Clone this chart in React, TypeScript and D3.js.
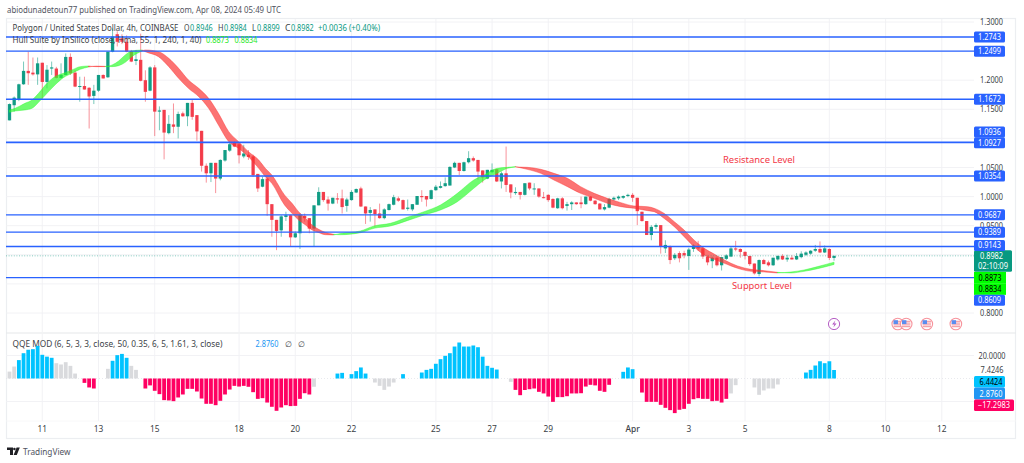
import React from "react";
import * as d3 from "d3";

const opens = [
  1.131,1.157,1.166,1.193,1.216,1.213,1.210,1.230,1.197,1.220,
  1.220,1.204,1.209,1.240,1.213,1.189,1.190,1.187,1.173,1.182,
  1.209,1.205,1.249,1.279,1.272,1.266,1.250,1.233,1.235,1.200,
  1.182,1.222,1.146,1.149,1.109,1.124,1.120,1.143,1.138,1.161,
  1.140,1.113,1.053,1.040,1.058,1.031,1.062,1.079,1.092,1.090,
  1.069,1.072,1.069,1.039,1.017,1.031,0.987,0.960,0.942,0.965,
  0.968,0.930,0.937,0.967,0.963,0.945,0.985,1.008,0.995,0.988,
  0.997,0.997,0.984,0.994,1.007,1.014,0.983,0.972,0.978,0.971,
  0.963,0.977,0.986,0.997,0.994,0.979,0.978,0.986,1.001,1.001,
  0.996,1.011,1.015,1.018,1.019,1.050,1.058,1.044,1.059,1.066,
  1.063,1.045,1.031,1.042,1.047,1.026,1.040,1.021,1.006,1.008,
  1.003,1.024,1.013,1.014,0.999,1.003,0.996,0.980,0.997,0.984,
  0.987,0.990,0.990,0.987,1.000,0.993,0.988,0.978,0.981,0.995,
  0.997,0.998,1.001,1.003,0.998,0.974,0.958,0.934,0.948,0.951,
  0.911,0.914,0.894,0.903,0.903,0.898,0.910,0.914,0.911,0.897,
  0.889,0.895,0.882,0.893,0.897,0.911,0.910,0.905,0.898,0.885,
  0.867,0.891,0.887,0.882,0.892,0.898,0.892,0.895,0.892,0.896,
  0.900,0.902,0.907,0.910,0.904,0.910,0.8946,
];
const highs = [
  1.160,1.172,1.194,1.232,1.249,1.239,1.239,1.230,1.226,1.232,
  1.223,1.229,1.246,1.246,1.217,1.206,1.206,1.188,1.192,1.209,
  1.210,1.249,1.289,1.284,1.279,1.277,1.252,1.252,1.280,1.217,
  1.224,1.226,1.155,1.149,1.140,1.160,1.146,1.146,1.161,1.166,
  1.140,1.113,1.057,1.058,1.058,1.064,1.080,1.094,1.095,1.092,
  1.089,1.080,1.072,1.039,1.034,1.033,0.987,0.960,0.968,0.974,
  0.969,0.940,0.971,0.971,0.963,0.985,1.016,1.008,1.000,0.998,
  1.006,1.012,0.998,1.011,1.014,1.017,0.983,0.982,0.978,0.988,
  0.980,0.988,1.003,1.000,0.995,0.995,0.987,1.001,1.011,1.001,
  1.012,1.020,1.026,1.033,1.052,1.060,1.058,1.060,1.078,1.069,
  1.063,1.045,1.046,1.057,1.047,1.043,1.086,1.021,1.016,1.008,
  1.023,1.024,1.023,1.014,1.008,1.004,0.997,0.998,0.999,0.991,
  0.992,0.990,1.000,1.000,1.001,0.994,0.989,0.987,0.998,1.000,
  1.002,1.002,1.005,1.006,0.998,0.974,0.958,0.951,0.954,0.951,
  0.925,0.916,0.903,0.906,0.907,0.912,0.918,0.924,0.913,0.899,
  0.897,0.897,0.896,0.901,0.914,0.924,0.911,0.906,0.898,0.885,
  0.892,0.893,0.890,0.895,0.899,0.901,0.900,0.899,0.903,0.906,
  0.906,0.908,0.917,0.923,0.916,0.911,0.8984,
];
const lows = [
  1.131,1.146,1.164,1.192,1.192,1.208,1.192,1.166,1.186,1.209,
  1.203,1.203,1.209,1.209,1.188,1.163,1.184,1.117,1.159,1.180,
  1.203,1.204,1.248,1.258,1.262,1.248,1.231,1.226,1.198,1.163,
  1.181,1.104,1.114,1.064,1.107,1.109,1.100,1.137,1.121,1.132,
  1.096,1.043,1.024,1.025,1.006,1.028,1.060,1.077,1.085,1.057,
  1.066,1.063,1.034,1.008,1.016,0.967,0.931,0.908,0.931,0.958,
  0.914,0.929,0.910,0.957,0.937,0.914,0.985,0.991,0.976,0.987,
  0.988,0.971,0.974,0.993,1.006,0.982,0.953,0.957,0.949,0.962,
  0.961,0.976,0.985,0.991,0.978,0.976,0.975,0.986,0.991,0.983,
  0.995,1.010,1.014,1.017,1.019,1.049,1.037,1.043,1.057,1.060,
  1.029,1.024,1.030,1.040,1.025,1.014,1.008,0.997,1.003,0.995,
  1.002,1.011,1.003,0.998,0.997,0.991,0.980,0.979,0.978,0.976,
  0.977,0.986,0.980,0.986,0.992,0.986,0.978,0.976,0.980,0.993,
  0.994,0.996,0.999,0.991,0.951,0.957,0.934,0.925,0.944,0.902,
  0.903,0.884,0.891,0.887,0.894,0.874,0.905,0.907,0.893,0.882,
  0.877,0.880,0.873,0.891,0.896,0.906,0.895,0.892,0.881,0.866,
  0.863,0.884,0.880,0.881,0.890,0.891,0.888,0.892,0.891,0.894,
  0.898,0.900,0.905,0.903,0.903,0.891,0.8899,
];
const closes = [
  1.159,1.170,1.193,1.216,1.212,1.210,1.229,1.197,1.218,1.222,
  1.204,1.209,1.240,1.212,1.189,1.190,1.184,1.172,1.182,1.209,
  1.203,1.249,1.275,1.266,1.266,1.249,1.232,1.236,1.199,1.180,
  1.222,1.146,1.148,1.110,1.125,1.120,1.142,1.138,1.161,1.137,
  1.112,1.053,1.040,1.058,1.031,1.063,1.080,1.090,1.086,1.071,
  1.074,1.068,1.037,1.014,1.030,0.987,0.960,0.941,0.966,0.968,
  0.930,0.937,0.968,0.963,0.945,0.985,1.008,0.994,0.988,0.998,
  0.995,0.982,0.995,1.008,1.013,0.983,0.971,0.977,0.970,0.963,
  0.978,0.987,0.999,0.993,0.978,0.981,0.987,1.001,0.999,0.995,
  1.011,1.017,1.018,1.023,1.051,1.058,1.044,1.059,1.066,1.062,
  1.043,1.033,1.046,1.046,1.026,1.040,1.020,1.007,1.008,1.003,
  1.023,1.014,1.014,1.000,0.998,0.994,0.981,0.997,0.980,0.987,
  0.990,0.987,0.987,1.000,0.993,0.987,0.978,0.982,0.996,0.998,
  1.000,1.001,1.003,0.998,0.975,0.958,0.934,0.948,0.951,0.915,
  0.917,0.891,0.900,0.894,0.899,0.909,0.916,0.911,0.897,0.887,
  0.895,0.882,0.896,0.899,0.911,0.909,0.905,0.898,0.884,0.868,
  0.891,0.884,0.882,0.895,0.898,0.892,0.895,0.892,0.898,0.902,
  0.904,0.907,0.910,0.904,0.911,0.8946,0.8982,
];

const hullBars = [
  0,1.2,3.3,4.8,6.2,8,9.7,11.5,13.3,15.1,16.9,18.5,20.4,21.9,23.3,24.7,26.1,28.3,
  29,31.8,34,36.1,38.2,40.4,42.5,44.6,46.8,48.9,51,53.2,54.6,56,58.7,60.3,61.7,63.2,64.6,66,67.4,69.2,
  70.6,74.9,77.8,81.3,84.9,88.5,92,95.6,99.1,101.3,104.1,106.3,108,
  110.5,113.4,116.2,119.1,121.9,124.8,127.6,130.5,133.3,136.2,137.6,139.7,141.9,144,146.1,148.3,150.4,152.6,155.4,158.3,161.1,163.9,
  166.8,169.6,172.5,176,
];
const hullFast = [
  1.1488,1.1517,1.1603,1.166,1.1774,1.1946,1.2061,1.2118,1.2175,1.2233,1.2244,1.2233,1.2233,1.2261,1.233,1.2433,1.2502,1.2519,
  1.249,1.2404,1.2233,1.2032,1.186,1.1717,1.1517,1.123,1.0944,1.083,1.0686,1.0486,1.0343,1.0228,0.9856,0.9713,0.9598,0.9512,0.9426,0.9381,0.9346,0.9341,
  0.9365,0.9409,0.9495,0.9541,0.9644,0.9741,0.9856,1.0056,1.0285,1.0371,1.0486,1.0503,1.0515,
  1.0469,1.04,1.0285,1.0171,1.0056,0.9971,0.9885,0.9827,0.9799,0.9759,0.9741,0.9627,0.9484,0.9312,0.914,0.8997,0.8922,0.8854,0.8768,0.8716,0.8705,0.8688,
  0.8705,0.8739,0.8797,0.8873,
];
const hullSlow = [
  1.1448,1.1471,1.1488,1.1517,1.162,1.1774,1.1917,1.2044,1.2118,1.2187,1.2227,1.2242,1.2238,1.2233,1.225,1.2307,1.2404,1.2502,
  1.2519,1.249,1.2376,1.2204,1.2003,1.186,1.1689,1.1431,1.1116,1.0944,1.0772,1.0629,1.0486,1.0371,1.0028,0.9885,0.9741,0.9627,0.9512,0.9437,0.9386,0.9352,
  0.9345,0.938,0.9455,0.9495,0.9587,0.9684,0.977,0.9913,1.0142,1.0285,1.04,1.0486,1.0509,
  1.0503,1.0469,1.04,1.0314,1.0171,1.0056,0.9971,0.9896,0.9839,0.9827,0.9799,0.9713,0.9569,0.9426,0.9255,0.9111,0.9014,0.8911,0.8808,0.875,0.8728,0.8699,
  0.8688,0.8716,0.8762,0.8834,
];

const qqeValues = [
  6,10.4,16,22,25,25.5,28.4,20.6,19,18,
  13.3,12.2,14.2,11,4.3,0,-3.8,-7.8,-8.7,0,
  0,8.4,15.4,20.3,21.4,18,11,7.5,0,-8.7,
  -6,-10.7,-13.6,-18.8,-19.1,-19.7,-16.5,-13.9,-9,-9,
  -11.3,-17.4,-22,-22,-23.2,-19.4,-13.9,-9.6,-6.4,-7,
  -6.4,-7.2,-11.9,-17.7,-17.1,-20.9,-24.6,-28.1,-25.2,-23.2,
  -24,-23.8,-17.7,-12.8,-13.9,-7.2,0,0,0,0,
  4.3,4.9,0,3.8,6.4,9.6,4.3,0,-3.5,-6.4,
  -9.9,-7,-3.5,0,3.8,0,0,0,5.2,7.5,
  8.4,12.8,16.8,19.7,22,27.8,31.3,27.8,27.8,28.7,
  27.2,19,11,9.3,7.8,0,0,-2.9,-9.9,-14.5,
  -10,-9.3,-8.7,-11.6,-13,-15.7,-20.3,-16.2,-16.2,-15.4,
  -13,-13,-12.8,-7,-5.5,-6,-10.7,-11.6,-5.5,0,
  0,5.8,9.6,8.1,0,-12.2,-20.3,-20.3,-20.3,-22.9,
  -25.5,-27.5,-30.1,-27.2,-26.4,-22,-18,-17.1,-17.7,-17.7,
  -19.7,-19.4,-20.9,-17.7,-13,-5.8,0,0,0,-7.8,
  -14.2,-10.4,-8.7,-8.7,-5.2,0,0,0,0,0,
  5.2,7.5,11.3,15,13.3,15,7.4,
];
const qqeWeakBars = [0,1,10,11,12,13,14,21,26,27,65,78,79,80,81,82,107,154,155,159,160,161,162,163,164];

const levels = [1.2743,1.2499,1.1672,1.0936,1.0927,1.0354,0.9687,0.9389,0.9143,0.8609];
const levelLabelNudge = [0,0,0,-10,0,0,0,0,-1,22.8];
const priceTicks = [1.3,1.2,1.15,1.05,1.0,0.95,0.8];
const priceGrid = [1.3,1.25,1.2,1.15,1.1,1.05,1.0,0.95,0.9,0.85,0.8];
const timeTickBars = [7,19,31,49,61,73,91,103,115,133,145,157,175,187,199];
const timeTickLabels = ["11","13","15","18","20","22","25","27","29","Apr","3","5","8","10","12"];
const flagBars = [189.6,191.4,195.8,202];
const lightningBar = 176;

const LAST_PRICE = 0.8982;
const HULL_LABELS = [0.8873, 0.8834];
const hullLabelNudge = [15.5, 24.6];
const qqeCeiling = 20, qqeLast = 7.4246, qqeFast = 6.4424, qqeMain = 2.876, qqeSlow = -17.2983;

const FONT = "'Noto Sans', 'Open Sans', sans-serif";
const UP = "#089981", DOWN = "#f23645", BLUE = "#2962ff", GRID = "#f0f1f4", TXT = "#3c3f47";

const x = d3.scaleLinear().domain([0, 199]).range([9.5, 941.8]);
const y = d3.scaleLinear().domain([1.3, 0.8]).range([22, 313]);
const yq = d3.scaleLinear().domain([20, -20]).range([355.5, 401.5]);
const fmt = d3.format(".4f");
const bodyW = 3.3;

type Row = { bar: number; fast: number; slow: number };
function hullRuns(): { up: boolean; pts: Row[] }[] {
  const rows: Row[] = hullBars.map((bar, i) => ({ bar, fast: hullFast[i], slow: hullSlow[i] }));
  const runs: { up: boolean; pts: Row[] }[] = [];
  rows.forEach((r) => {
    const up = r.fast >= r.slow;
    const cur = runs[runs.length - 1];
    if (cur && cur.up === up) cur.pts.push(r);
    else {
      const pts: Row[] = cur ? [{ ...cur.pts[cur.pts.length - 1] }] : [];
      pts.push(r);
      runs.push({ up, pts });
    }
  });
  return runs;
}
const hullArea = d3
  .area<Row>()
  .x((d) => x(d.bar))
  .y0((d) => y(d.fast))
  .y1((d) => y(d.slow))
  .curve(d3.curveMonotoneX);

function Box(p: { x0: number; x1: number; y0: number; y1: number; fill: string }) {
  return <rect x={p.x0} y={p.y0} width={p.x1 - p.x0} height={p.y1 - p.y0} rx={1.5} fill={p.fill} />;
}

function T(p: { x: number; y: number; w: number; fill?: string; anchor?: "start" | "middle"; size?: number; weight?: number; children: any }) {
  return (
    <text
      x={p.x}
      y={p.y}
      fontSize={p.size ?? 8.4}
      fill={p.fill ?? TXT}
      textAnchor={p.anchor ?? "start"}
      textLength={p.w}
      lengthAdjust="spacingAndGlyphs"
      fontWeight={p.weight ?? 400}
    >
      {p.children}
    </text>
  );
}

function Flag({ cx, cy }: { cx: number; cy: number }) {
  return (
    <g>
      <circle cx={cx} cy={cy} r={5.8} fill="#fff" stroke="#f7939c" strokeWidth={1.1} />
      {[-2.7, -0.9, 0.9, 2.7].map((d) => (
        <line key={d} x1={cx - 4.2} x2={cx + 4.2} y1={cy + d} y2={cy + d} stroke="#f4808a" strokeWidth={0.9} />
      ))}
      <rect x={cx - 4.2} y={cy - 3.8} width={4.4} height={3.9} fill="#5b8def" />
    </g>
  );
}

export default function App() {
  const weak = new Set(qqeWeakBars);
  const runs = hullRuns();
  return (
    <svg
      width={1024}
      height={463}
      viewBox="0 0 1024 463"
      style={{ position: "absolute", left: 0, top: 0, display: "block", background: "#fff" }}
      fontFamily={FONT}
    >
      <T x={7} y={13} w={274} size={8.8} fill="#50535e">
        abiodunadetoun77 published on TradingView.com, Apr 08, 2024 05:49 UTC
      </T>

      {/* frame */}
      <rect x={6.5} y={18.5} width={1009} height={420} fill="#fff" stroke="#eceef1" strokeWidth={1.2} />
      <line x1={6} x2={1016} y1={333} y2={333} stroke="#e6e7ea" strokeWidth={1.2} />
      <line x1={6} x2={1016} y1={421} y2={421} stroke="#f6f6f8" strokeWidth={0.8} />

      {/* grid */}
      {timeTickBars.map((b) => (
        <g key={b}>
          <line x1={x(b)} x2={x(b)} y1={19} y2={332} stroke={GRID} strokeWidth={0.9} />
          <line x1={x(b)} x2={x(b)} y1={334} y2={421} stroke={GRID} strokeWidth={0.9} />
        </g>
      ))}
      {priceGrid.map((p) => (
        <line key={p} x1={6} x2={974} y1={y(p)} y2={y(p)} stroke={GRID} strokeWidth={0.9} />
      ))}
      {[20, -20].map((v) => (
        <line key={v} x1={6} x2={974} y1={yq(v)} y2={yq(v)} stroke={GRID} strokeWidth={0.9} />
      ))}
      <line x1={6} x2={974} y1={yq(0)} y2={yq(0)} stroke="#dfe1e6" strokeWidth={0.7} strokeDasharray="1 2" />

      {/* candles */}
      {closes.map((c, i) => {
        const o = opens[i];
        const col = c >= o ? UP : DOWN;
        const top = y(Math.max(o, c));
        const bot = y(Math.min(o, c));
        return (
          <g key={i}>
            <line x1={x(i)} x2={x(i)} y1={y(highs[i])} y2={y(lows[i])} stroke={col} strokeWidth={0.9} strokeOpacity={0.6} />
            <rect x={x(i) - bodyW / 2} y={top} width={bodyW} height={Math.max(bot - top, 1)} fill={col} fillOpacity={0.95} />
          </g>
        );
      })}

      {/* hull band */}
      {runs.map((r, i) => (
        <path
          key={i}
          d={hullArea(r.pts) || ""}
          fill={r.up ? "#2cfb2c" : "#fb3030"}
          fillOpacity={0.68}
          stroke={r.up ? "#2cfb2c" : "#fb3030"}
          strokeOpacity={0.6}
          strokeWidth={0.7}
        />
      ))}

      {/* level lines */}
      {levels.map((l) => (
        <line key={l} x1={6} x2={974} y1={y(l)} y2={y(l)} stroke={BLUE} strokeWidth={1.35} />
      ))}
      <line x1={6} x2={974} y1={y(LAST_PRICE)} y2={y(LAST_PRICE)} stroke={UP} strokeOpacity={0.55} strokeWidth={0.9} strokeDasharray="1 1.6" />

      {/* annotations */}
      <T x={723} y={163} w={72} size={9.3} fill={DOWN}>Resistance Level</T>
      <T x={732} y={289} w={60} size={9.3} fill={DOWN}>Support Level</T>

      {/* legends */}
      <T x={12.5} y={31} w={166}>Polygon / United States Dollar, 4h, COINBASE</T>
      {[["O", "0.8946", 184], ["H", "0.8984", 218], ["L", "0.8899", 252], ["C", "0.8982", 285]].map(([k, v, px]) => (
        <g key={k as string}>
          <T x={px as number} y={31} w={k === "L" ? 4 : 5.5}>{k}</T>
          <T x={(px as number) + (k === "L" ? 5 : 6)} y={31} w={22.7} fill={UP}>{v}</T>
        </g>
      ))}
      <T x={318} y={31} w={62} fill={UP}>+0.0036 (+0.40%)</T>
      <T x={12.5} y={43} w={189}>Hull Suite by InSilico (close, Hma, 55, 1, 240, 1, 40)</T>
      <T x={206} y={43} w={23} fill="#28e828">0.8873</T>
      <T x={234.5} y={43} w={23} fill="#28e828">0.8834</T>
      <T x={12.5} y={347} w={210}>QQE MOD (6, 5, 3, 3, close, 50, 0.35, 6, 5, 1.61, 3, close)</T>
      <T x={255.5} y={347} w={23} fill="#2196f3">2.8760</T>
      <text x={285} y={347} fontSize={8.4} fill={TXT}>∅</text>
      <text x={297.5} y={347} fontSize={8.4} fill={TXT}>∅</text>

      {/* event icons */}
      <g>
        <circle cx={x(lightningBar)} cy={324} r={5.6} fill="#fff" stroke="#9c27b0" strokeOpacity={0.75} strokeWidth={1} />
        <path d={`M${x(lightningBar) + 1.3} ${320.6}l-3.2 4h2.3l-1.1 3 3.2-4.1h-2.3z`} fill="#9c27b0" fillOpacity={0.8} />
      </g>
      {flagBars.map((b) => (
        <Flag key={b} cx={x(b)} cy={324} />
      ))}

      {/* QQE */}
      {qqeValues.map((v, i) =>
        v === 0 ? null : (
          <rect
            key={i}
            x={x(i) - 1.9}
            width={3.8}
            y={Math.min(yq(v), yq(0))}
            height={Math.abs(yq(v) - yq(0))}
            fill={weak.has(i) ? "#d9dadd" : v > 0 ? "#00c3ff" : "#ff0062"}
          />
        )
      )}

      {/* price scale */}
      {priceTicks.map((p) => (
        <T key={p} x={991.5} y={y(p) + 3} w={23} anchor="middle">{fmt(p)}</T>
      ))}
      <Box x0={974} x1={1012} y0={y(LAST_PRICE) - 5.5} y1={y(LAST_PRICE) + 16} fill={UP} />
      <T x={991.5} y={y(LAST_PRICE) + 3} w={23} anchor="middle" fill="#fff">{fmt(LAST_PRICE)}</T>
      <T x={993} y={y(LAST_PRICE) + 13.5} w={30} anchor="middle" fill="#fff">02:10:09</T>
      {HULL_LABELS.map((h, i) => {
        const cy = y(h) + hullLabelNudge[i];
        return (
          <g key={h}>
            <rect x={974} y={cy - 5.8} width={32} height={11.6} fill="#00ff00" />
            <T x={990} y={cy + 3} w={23} anchor="middle" fill="#000">{fmt(h)}</T>
          </g>
        );
      })}
      {levels.map((l, i) => {
        const cy = y(l) + levelLabelNudge[i];
        return (
          <g key={l}>
            <Box x0={974} x1={1005} y0={cy - 5.5} y1={cy + 5.5} fill={BLUE} />
            <T x={989.5} y={cy + 3} w={23} anchor="middle" fill="#fff">{fmt(l)}</T>
          </g>
        );
      })}

      {/* QQE scale */}
      <T x={992} y={yq(qqeCeiling) + 3.2} w={27} anchor="middle">{fmt(qqeCeiling)}</T>
      <T x={992} y={yq(qqeLast) + 3.2} w={23} anchor="middle">{fmt(qqeLast)}</T>
      <Box x0={974} x1={1005} y0={376} y1={387.5} fill="#00c3ff" />
      <T x={991} y={384.8} w={23} anchor="middle" fill="#000">{fmt(qqeFast)}</T>
      <Box x0={974} x1={1005} y0={387.5} y1={399.5} fill="#2196f3" />
      <T x={991} y={396.5} w={23} anchor="middle" fill="#fff">{fmt(qqeMain)}</T>
      <Box x0={974} x1={1014} y0={399.5} y1={411} fill="#ff0062" />
      <T x={994} y={408.3} w={32} anchor="middle" fill="#fff">{"\u2212" + fmt(Math.abs(qqeSlow))}</T>

      {/* time axis */}
      {timeTickBars.map((b, i) => (
        <text key={b} x={x(b)} y={432} fontSize={8.4} textAnchor="middle" fill={TXT} fontWeight={timeTickLabels[i] === "Apr" ? 500 : 400}>
          {timeTickLabels[i]}
        </text>
      ))}

      {/* logo */}
      <g fill="#1f1f24">
        <path d="M7 447.5h6v7.5h-3v-5h-3z" />
        <circle cx={14.4} cy={449} r={1.3} />
        <path d="M16.6 447.5h3.2l-3 7.5h-3.2z" />
      </g>
      <T x={23} y={455} w={47.5} size={9.6} fill="#50535e">TradingView</T>
    </svg>
  );
}
